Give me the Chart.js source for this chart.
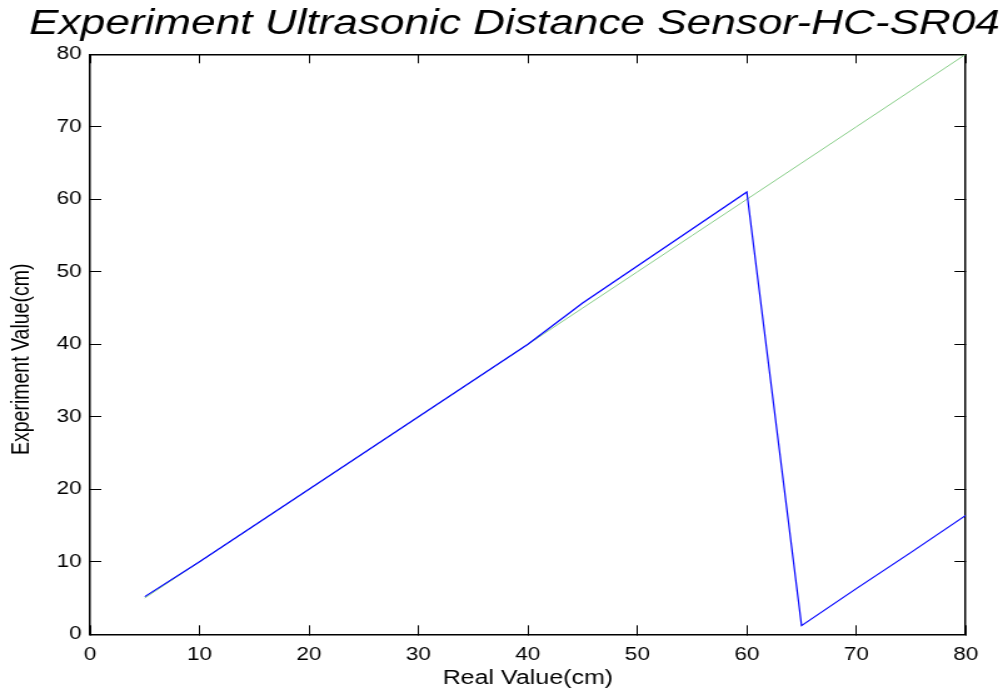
<!DOCTYPE html>
<html>
<head>
<meta charset="utf-8">
<script src="https://cdn.jsdelivr.net/npm/chart.js@4"></script>
<style>
  html, body { margin: 0; padding: 0; background: #ffffff; }
  #c { display: block; width: 1003px; height: 694px; }
</style>
</head>
<body>
<canvas id="c" width="802" height="694" style="width:1003px;height:694px;"></canvas>
<script>
const chartTitle = 'Experiment Ultrasonic Distance Sensor-HC-SR04';
const xAxisTitle = 'Real Value(cm)';
const yAxisTitle = 'Experiment Value(cm)';

const realValues = [5, 10, 15, 20, 25, 30, 35, 40, 45, 50, 55, 60, 65, 70, 75, 80];
const experimentValues = [5.2, 10, 15, 20, 25, 30, 35, 40, 45.7, 50.8, 55.9, 61, 1.2, 6.3, 11.3, 16.4];
const idealValues = [5, 10, 15, 20, 25, 30, 35, 40, 45, 50, 55, 60, 65, 70, 75, 80];

const axisMin = 0;
const axisMax = 80;
const axisStep = 10;

const FONT = "'Liberation Sans', Arial, Helvetica, sans-serif";
Chart.defaults.font.family = FONT;
Chart.defaults.color = '#000000';

const toPoints = (xs, ys) => xs.map((x, i) => ({ x: x, y: ys[i] }));

const TICK_IN = -9;

const layoutTweaks = {
  id: 'layoutTweaks',
  afterLayout(chart) {
    if (chart.titleBlock) {
      chart.titleBlock.left += 10.4;
      chart.titleBlock.right += 10.4;
    }
    const s = chart.scales.y;
    if (s && !s._titleShifted) {
      const orig = s.drawTitle.bind(s);
      s.drawTitle = function () {
        const ctx = this.ctx;
        ctx.save();
        ctx.translate(0, 15);
        orig();
        ctx.restore();
      };
      s._titleShifted = true;
    }
  }
};

new Chart(document.getElementById('c'), {
  type: 'line',
  data: {
    datasets: [
      {
        label: 'Experiment',
        data: toPoints(realValues, experimentValues),
        borderColor: '#0000ff',
        borderWidth: 1.2,
        pointRadius: 0,
        tension: 0,
        fill: false
      },
      {
        label: 'Ideal',
        data: toPoints(realValues, idealValues),
        borderColor: 'rgb(135,205,135)',
        borderWidth: 1,
        pointRadius: 0,
        tension: 0,
        fill: false
      }
    ]
  },
  options: {
    responsive: false,
    devicePixelRatio: 1,
    animation: false,
    layout: { padding: 0 },
    plugins: {
      legend: { display: false },
      tooltip: { enabled: false },
      title: {
        display: true,
        text: chartTitle,
        color: '#000000',
        font: { family: FONT, size: 35.3, style: 'italic', weight: 'normal', lineHeight: 1.2 },
        padding: { top: 2.5, bottom: 9.44 }
      }
    },
    scales: {
      x: {
        type: 'linear',
        position: 'bottom',
        min: axisMin,
        max: axisMax,
        ticks: { stepSize: axisStep, padding: 18.6, color: '#000000', font: { size: 18, lineHeight: 1.2 }, maxRotation: 0 },
        grid: { drawOnChartArea: false, drawTicks: true, tickLength: TICK_IN, color: '#000000', lineWidth: 1 },
        border: { display: true, color: '#000000', width: 1.5 },
        title: { display: true, text: xAxisTitle, color: '#000000', font: { size: 20, lineHeight: 1.2 }, padding: { top: 0, bottom: 4 } },
        afterFit(scale) { scale.height = 59.7; }
      },
      x2: {
        type: 'linear',
        position: 'top',
        min: axisMin,
        max: axisMax,
        ticks: { stepSize: axisStep, display: false },
        grid: { drawOnChartArea: false, drawTicks: true, tickLength: TICK_IN, color: '#000000', lineWidth: 1 },
        border: { display: true, color: '#000000', width: 1.5 },
        afterFit(scale) { scale.height = 0; }
      },
      y: {
        type: 'linear',
        position: 'left',
        min: axisMin,
        max: axisMax,
        ticks: { stepSize: axisStep, padding: 15.7, color: '#000000', font: { size: 18, lineHeight: 1.2 } },
        grid: { drawOnChartArea: false, drawTicks: true, tickLength: TICK_IN, color: '#000000', lineWidth: 1 },
        border: { display: true, color: '#000000', width: 1.5 },
        title: { display: true, text: yAxisTitle, color: '#000000', font: { size: 19.5, lineHeight: 1.2 }, padding: { top: 6, bottom: 0 } },
        afterFit(scale) { scale.width = 72; }
      },
      y2: {
        type: 'linear',
        position: 'right',
        min: axisMin,
        max: axisMax,
        ticks: { stepSize: axisStep, display: false },
        grid: { drawOnChartArea: false, drawTicks: true, tickLength: TICK_IN, color: '#000000', lineWidth: 1 },
        border: { display: true, color: '#000000', width: 1.5 },
        afterFit(scale) { scale.width = 29.8; }
      }
    }
  },
  plugins: [layoutTweaks]
});
</script>
</body>
</html>
